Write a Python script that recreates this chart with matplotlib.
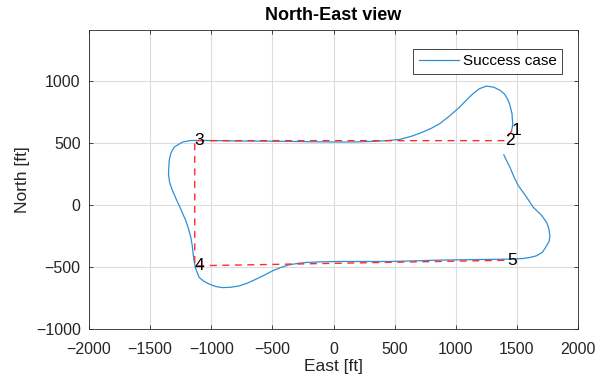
import numpy as np
import matplotlib.pyplot as plt

plt.rcParams['font.family'] = ['Liberation Sans', 'DejaVu Sans']

# waypoints (East, North) in ft
wp_east = [1460, 1400, -1135, -1135, 1420]
wp_north = [600, 520, 520, -490, -445]
wp_labels = ['1', '2', '3', '4', '5']

# flown trajectory
traj_east = [1457, 1463, 1466, 1460, 1445, 1429, 1400, 1361, 1310, 1251, 1195, 1142,
             1090, 1033, 950, 869, 800, 732, 640, 541, 430, 322, 180, 49, -160, -361,
             -570, -770, -950, -1098, -1170, -1235, -1303, -1330, -1344, -1350, -1340,
             -1317, -1290, -1262, -1235, -1208, -1185, -1167, -1155, -1148, -1140, -1131,
             -1115, -1098, -1060, -1016, -960, -907, -840, -770, -700, -634, -565, -497,
             -430, -361, -290, -224, -100, 49, 250, 459, 660, 869, 1150, 1443, 1552, 1610,
             1661, 1710, 1743, 1765, 1770, 1762, 1743, 1700, 1634, 1575, 1511, 1475, 1443,
             1415, 1393]
traj_north = [603, 630, 657, 738, 800, 846, 895, 927, 952, 960, 940, 900,
              850, 792, 720, 657, 620, 590, 556, 530, 519, 514, 510, 509, 511, 514,
              516, 517, 520, 522, 521, 509, 468, 420, 360, 252, 180,
              117, 55, -4, -65, -126, -195, -261, -330, -395, -450, -500,
              -545, -585, -615, -638, -658, -666, -663, -652, -628, -598, -565, -530,
              -503, -482, -470, -463, -458, -455, -455, -455, -450, -444, -440, -436, -431, -422,
              -409, -380, -328, -290, -247, -190, -139, -80, -18, 70, 158, 230, 306,
              360, 406]

fig = plt.figure(figsize=(6.1, 3.89), dpi=100)
ax = fig.add_axes([89 / 610, 60 / 389, 489 / 610, 299 / 389])

ax.plot(traj_east, traj_north, color='#2f8fd6', lw=0.9, label='Success case')
ax.plot(wp_east, wp_north, '--', color='#ff2a2a', lw=1.0, dashes=(5, 4))
for e, n, s in zip(wp_east, wp_north, wp_labels):
    ax.text(e, n, s, ha='left', va='center', fontsize=12.5, color='black')

ax.set_xlim(-2000, 2000)
ax.set_ylim(-1000, 1413)
ax.set_xticks(np.arange(-2000, 2001, 500))
ax.set_yticks(np.arange(-1000, 1001, 500))
ax.grid(True, color='#dcdcdc', lw=0.8)
ax.set_axisbelow(True)
ax.tick_params(direction='in', top=True, right=True, length=3, labelsize=11.5,
               colors='#262626', width=0.6)
ax.tick_params(axis='x', pad=9)
ax.tick_params(axis='y', pad=6)
for sp in ax.spines.values():
    sp.set_color('#262626')
    sp.set_linewidth(0.6)

ax.set_title('North-East view', fontsize=13, fontweight='bold', pad=7)
ax.set_xlabel('East [ft]', fontsize=12.5, color='#262626', labelpad=2)
ax.set_ylabel('North [ft]', fontsize=12.5, color='#262626', labelpad=4)

leg = ax.legend(loc='upper right', bbox_to_anchor=(0.968, 0.937), borderaxespad=0,
                fancybox=False, framealpha=1, edgecolor='#262626', fontsize=11,
                handlelength=2.6, handletextpad=0.3, borderpad=0.35)
leg.get_frame().set_linewidth(0.6)

plt.savefig('out.png', dpi=100)
